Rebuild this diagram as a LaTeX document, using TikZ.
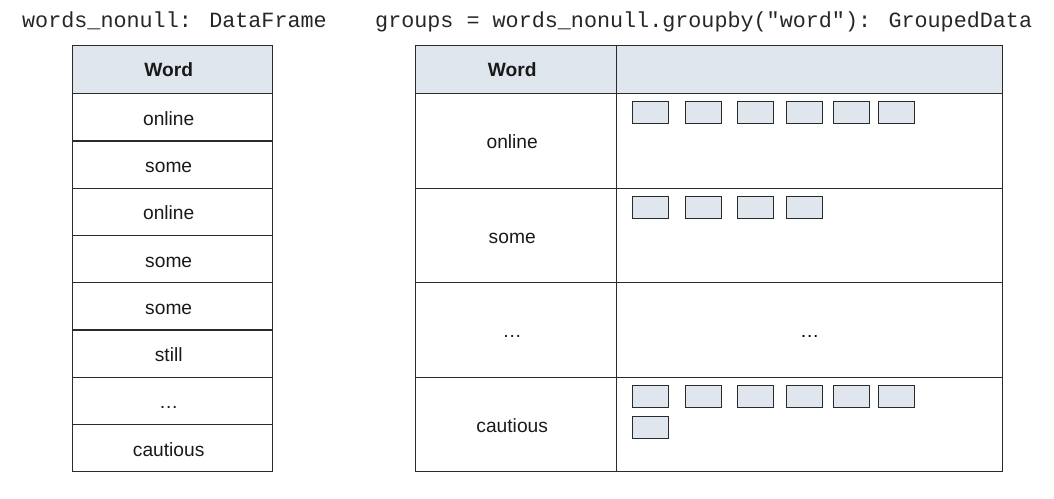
\documentclass[tikz,border=0pt]{standalone}
\usepackage{fontspec}
\setmainfont{Liberation Sans}
\newfontfamily\monof{Liberation Mono}
\definecolor{hdr}{HTML}{DFE6EE}
\definecolor{ln}{HTML}{2A2A2A}
\newcommand{\lft}[1]{\hspace*{-8pt}#1}
\begin{document}
\begin{tikzpicture}[x=1pt,y=-1pt,
  cell/.style={draw=ln,line width=1.4pt,anchor=north west,inner sep=0pt,
    font=\fontsize{19.2}{22}\selectfont,text=black!90,text height=16pt,text depth=0pt},
  hcell/.style={cell,fill=hdr,font=\fontsize{19.2}{22}\selectfont\bfseries,text height=14pt},
  item/.style={draw=ln,line width=1.3pt,fill=hdr,anchor=north west,inner sep=0pt,
    minimum width=36pt,minimum height=22pt},
  title/.style={anchor=base west,inner sep=0pt,font=\fontsize{21.75}{24}\monof,text=black!85}]
\useasboundingbox (0,0) rectangle (1054,498);
% titles
\node[title] (t1) at (22,27) {words\_nonull: DataFrame};
\node[title] (t2) at (375,27) {groups = words\_nonull.groupby("word"): GroupedData};
% left table
\node[hcell,minimum width=200pt,minimum height=48pt] (lh) at (72,45) {\lft{Word}};
\foreach \t [count=\i from 0] in {online,some,online,some,some,still,\dots,cautious}{
  \node[cell,minimum width=200pt,minimum height=47.25pt] (l\i) at (72,93+47.25*\i) {\lft{\t}};
}
% right table
\node[hcell,minimum width=201pt,minimum height=48pt] (rh1) at (415,45) {\lft{Word}};
\node[hcell,minimum width=386pt,minimum height=48pt] (rh2) at (616,45) {};
\foreach \t [count=\i from 0] in {online,some,\dots,cautious}{
  \node[cell,minimum width=201pt,minimum height=94.5pt] (ra\i) at (415,93+94.5*\i) {\lft{\t}};
  \node[cell,minimum width=386pt,minimum height=94.5pt] (rb\i) at (616,93+94.5*\i) {};
}
\node[font=\fontsize{19.2}{22}\selectfont,inner sep=0pt,text height=16pt,text depth=0pt] (rbdots) at (rb2.center) {\dots};
% group items
\foreach \x [count=\k] in {632,685,737,786,833,878}{
  \node[item] (a\k) at (\x,101) {};
  \node[item] (d\k) at (\x,385) {};
}
\foreach \x [count=\k] in {632,685,737,786}{
  \node[item] (b\k) at (\x,196) {};
}
\node[item] (d7) at (632,416) {};
\end{tikzpicture}
\end{document}
